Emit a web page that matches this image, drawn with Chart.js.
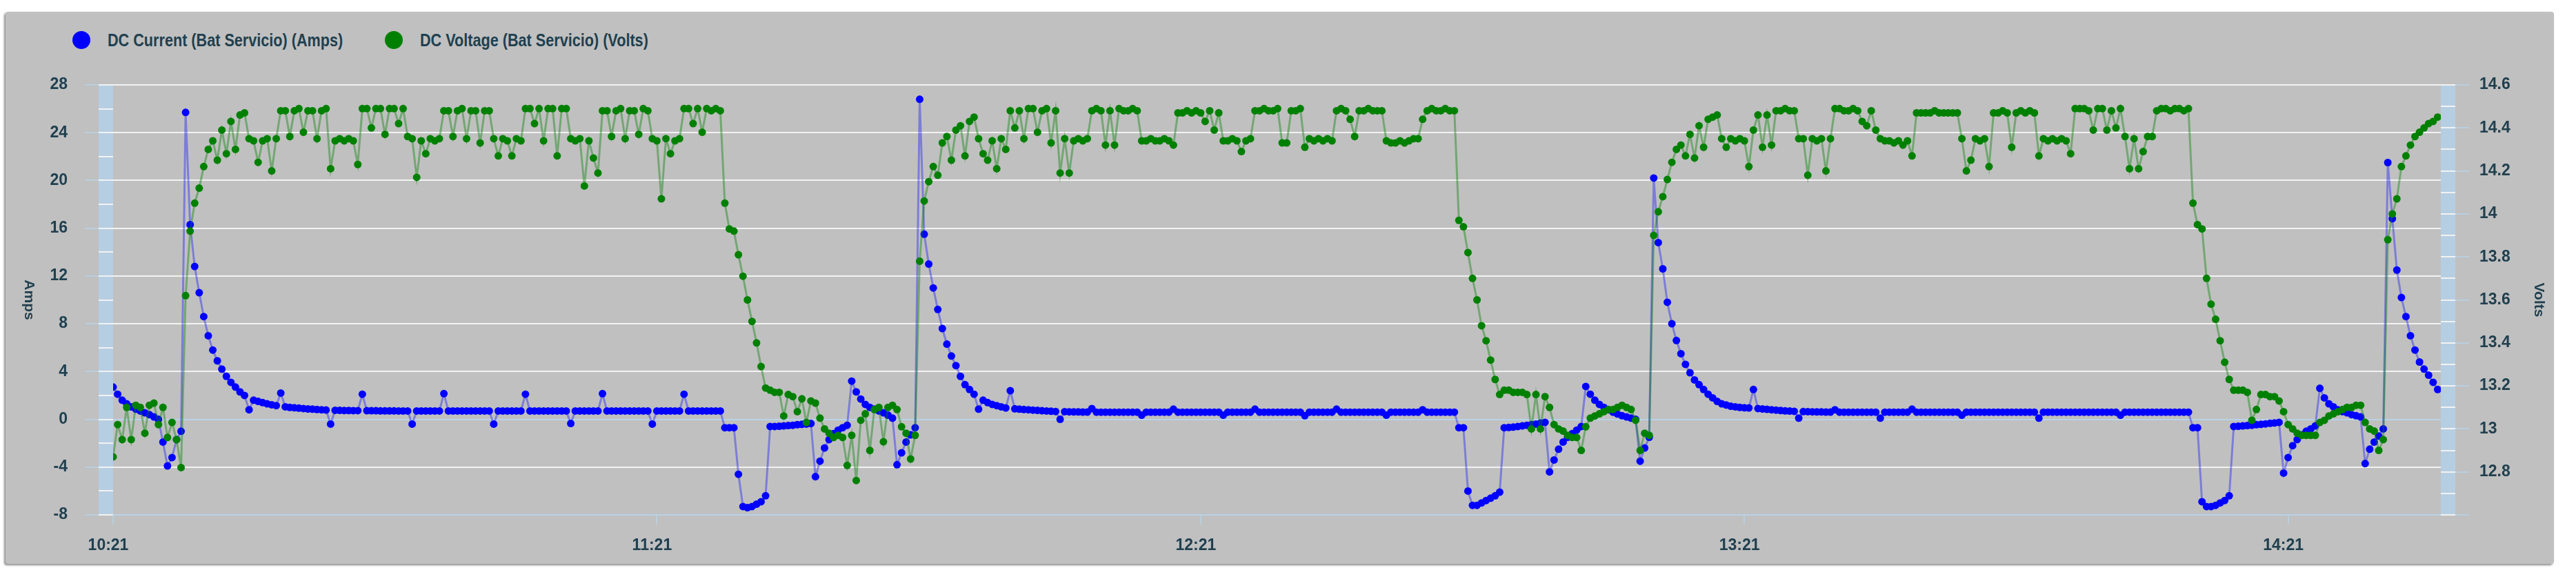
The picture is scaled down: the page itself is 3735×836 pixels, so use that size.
<!DOCTYPE html>
<html>
<head>
<meta charset="utf-8">
<script src="https://cdn.jsdelivr.net/npm/chart.js@4.4.1/dist/chart.umd.min.js"></script>
<style>
html, body { margin: 0; padding: 0; background: #fff; }
body { width: 3735px; height: 836px; position: relative; overflow: hidden; }
#panel { position: absolute; left: 8px; top: 17px; width: 3695px; height: 800px; background: #c0c0c0; border-radius: 4px; box-shadow: -2px 2px 3px rgba(0,0,0,0.45); }
#chart { position: absolute; left: 0; top: 0; }
.legend-dot { position: absolute; top: 45px; width: 26px; height: 26px; border-radius: 50%; }
.legend-text { position: absolute; top: 44px; font: bold 25px "Liberation Sans", Arial, sans-serif; line-height: 28px; color: #21404f; white-space: nowrap; transform: scaleX(0.865); transform-origin: left center; }
</style>
</head>
<body>
<div id="panel"></div>
<div class="legend-dot" style="left:105px;background:#0000ff"></div>
<div class="legend-text" style="left:156px">DC Current (Bat Servicio) (Amps)</div>
<div class="legend-dot" style="left:558px;background:#008000"></div>
<div class="legend-text" style="left:609px">DC Voltage (Bat Servicio) (Volts)</div>
<canvas id="chart" width="3735" height="836"></canvas>
<script>
// one sample every half minute, starting at 10:21
const sampleMinutes = 0.5;
const plotEndMinutes = 256.85;
const hourLabels = ['10:21', '11:21', '12:21', '13:21', '14:21'];

const ampsLabel = 'DC Current (Bat Servicio) (Amps)';
const voltsLabel = 'DC Voltage (Bat Servicio) (Volts)';

// DC current, amps (10 samples per line)
const amps = [
  2.7, 2.1, 1.6, 1.3, 1.05, 0.85, 0.7, 0.55, 0.4, 0.2,
  0.0, -1.9, -3.9, -3.2, -1.7, -1.0, 25.7, 16.3, 12.8, 10.6,
  8.6, 7.0, 5.8, 4.9, 4.2, 3.6, 3.1, 2.7, 2.3, 2.0,
  0.8, 1.6, 1.5, 1.4, 1.3, 1.22, 1.15, 2.2, 1.05, 1.0,
  0.97, 0.94, 0.9, 0.87, 0.85, 0.82, 0.8, 0.78, -0.4, 0.76,
  0.75, 0.74, 0.74, 0.73, 0.73, 2.1, 0.72, 0.72, 0.72, 0.71,
  0.71, 0.71, 0.71, 0.7, 0.7, 0.7, -0.4, 0.7, 0.7, 0.7,
  0.7, 0.7, 0.7, 2.15, 0.7, 0.7, 0.7, 0.7, 0.7, 0.7,
  0.7, 0.7, 0.7, 0.7, -0.4, 0.7, 0.7, 0.7, 0.7, 0.7,
  0.7, 2.1, 0.7, 0.7, 0.7, 0.7, 0.7, 0.7, 0.7, 0.7,
  0.7, -0.35, 0.7, 0.7, 0.7, 0.7, 0.7, 0.7, 2.15, 0.7,
  0.7, 0.7, 0.7, 0.7, 0.7, 0.7, 0.7, 0.7, 0.7, -0.4,
  0.7, 0.7, 0.7, 0.7, 0.7, 0.7, 2.1, 0.7, 0.7, 0.7,
  0.7, 0.7, 0.7, 0.7, 0.7, -0.7, -0.7, -0.7, -4.6, -7.3,
  -7.4, -7.3, -7.1, -6.9, -6.4, -0.6, -0.6, -0.58, -0.55, -0.52,
  -0.5, -0.45, -0.42, -0.4, -0.35, -4.8, -3.5, -2.4, -1.7, -1.2,
  -0.9, -0.7, -0.5, 3.2, 2.3, 1.7, 1.25, 1.0, 0.85, 0.7,
  0.55, 0.35, 0.1, -3.8, -2.8, -1.9, -1.3, -0.7, 26.8, 15.5,
  13.0, 11.0, 9.2, 7.6, 6.3, 5.3, 4.5, 3.6, 2.9, 2.5,
  2.1, 0.85, 1.6, 1.4, 1.25, 1.15, 1.05, 0.95, 2.4, 0.88,
  0.85, 0.82, 0.8, 0.77, 0.75, 0.72, 0.7, 0.68, 0.66, 0.0,
  0.64, 0.63, 0.62, 0.62, 0.61, 0.61, 0.9, 0.6, 0.6, 0.6,
  0.6, 0.6, 0.6, 0.6, 0.6, 0.6, 0.6, 0.35, 0.6, 0.6,
  0.6, 0.6, 0.6, 0.6, 0.85, 0.6, 0.6, 0.6, 0.6, 0.6,
  0.6, 0.6, 0.6, 0.6, 0.6, 0.35, 0.6, 0.6, 0.6, 0.6,
  0.6, 0.6, 0.85, 0.6, 0.6, 0.6, 0.6, 0.6, 0.6, 0.6,
  0.6, 0.6, 0.6, 0.3, 0.6, 0.6, 0.6, 0.6, 0.6, 0.6,
  0.85, 0.6, 0.6, 0.6, 0.6, 0.6, 0.6, 0.6, 0.6, 0.6,
  0.6, 0.35, 0.6, 0.6, 0.6, 0.6, 0.6, 0.6, 0.6, 0.8,
  0.6, 0.6, 0.6, 0.6, 0.6, 0.6, 0.6, -0.7, -0.7, -6.0,
  -7.2, -7.2, -7.0, -6.8, -6.6, -6.4, -6.1, -0.7, -0.68, -0.65,
  -0.6, -0.55, -0.5, -0.45, -0.4, -0.32, -0.25, -4.4, -3.4, -2.5,
  -1.9, -1.5, -1.2, -0.9, -0.6, 2.75, 2.1, 1.6, 1.25, 1.0,
  0.8, 0.6, 0.45, 0.3, 0.2, 0.1, 0.0, -3.5, -2.4, -1.5,
  20.2, 14.8, 12.6, 9.8, 8.0, 6.6, 5.5, 4.6, 3.9, 3.3,
  2.9, 2.5, 2.1, 1.8, 1.5, 1.3, 1.2, 1.1, 1.05, 1.0,
  0.97, 0.95, 2.5, 0.9, 0.87, 0.84, 0.8, 0.77, 0.74, 0.71,
  0.69, 0.67, 0.1, 0.65, 0.64, 0.63, 0.62, 0.62, 0.61, 0.61,
  0.8, 0.6, 0.6, 0.6, 0.6, 0.6, 0.6, 0.6, 0.6, 0.6,
  0.1, 0.6, 0.6, 0.6, 0.6, 0.6, 0.6, 0.85, 0.6, 0.6,
  0.6, 0.6, 0.6, 0.6, 0.6, 0.6, 0.6, 0.6, 0.35, 0.6,
  0.6, 0.6, 0.6, 0.6, 0.6, 0.6, 0.6, 0.6, 0.6, 0.6,
  0.6, 0.6, 0.6, 0.6, 0.6, 0.1, 0.6, 0.6, 0.6, 0.6,
  0.6, 0.6, 0.6, 0.6, 0.6, 0.6, 0.6, 0.6, 0.6, 0.6,
  0.6, 0.6, 0.6, 0.35, 0.6, 0.6, 0.6, 0.6, 0.6, 0.6,
  0.6, 0.6, 0.6, 0.6, 0.6, 0.6, 0.6, 0.6, 0.6, -0.7,
  -0.7, -6.9, -7.3, -7.3, -7.2, -7.0, -6.8, -6.4, -0.6, -0.58,
  -0.55, -0.52, -0.5, -0.45, -0.42, -0.38, -0.33, -0.3, -0.25, -4.5,
  -3.2, -2.2, -1.7, -1.3, -1.0, -0.8, -0.55, 2.6, 1.8, 1.3,
  1.05, 0.8, 0.65, 0.55, 0.4, 0.3, 0.2, -3.7, -2.5, -1.9,
  -1.4, -0.8, 21.5, 16.8, 12.5, 10.2, 8.6, 7.0, 5.8, 4.8,
  4.2, 3.7, 3.1, 2.5
];

// DC voltage, volts (10 samples per line)
const volts = [
  12.87, 13.02, 12.95, 13.1, 12.95, 13.11, 13.1, 12.98, 13.11, 13.12,
  13.02, 13.1, 12.96, 13.03, 12.95, 12.82, 13.62, 13.92, 14.05, 14.12,
  14.22, 14.3, 14.34, 14.25, 14.39, 14.28, 14.43, 14.3, 14.46, 14.47,
  14.35, 14.34, 14.24, 14.34, 14.35, 14.2, 14.35, 14.48, 14.48, 14.36,
  14.48, 14.49, 14.38, 14.48, 14.48, 14.35, 14.48, 14.49, 14.21, 14.34,
  14.35, 14.34, 14.35, 14.34, 14.23, 14.49, 14.49, 14.4, 14.49, 14.49,
  14.37, 14.49, 14.49, 14.42, 14.49, 14.36, 14.35, 14.17, 14.34, 14.28,
  14.35, 14.34, 14.35, 14.48, 14.48, 14.36, 14.48, 14.49, 14.35, 14.48,
  14.48, 14.33, 14.48, 14.48, 14.35, 14.27, 14.35, 14.34, 14.27, 14.35,
  14.34, 14.49, 14.49, 14.42, 14.49, 14.34, 14.49, 14.49, 14.27, 14.49,
  14.49, 14.35, 14.34, 14.35, 14.13, 14.34, 14.26, 14.19, 14.48, 14.48,
  14.36, 14.48, 14.49, 14.35, 14.48, 14.48, 14.37, 14.49, 14.48, 14.35,
  14.34, 14.07, 14.35, 14.28, 14.34, 14.35, 14.49, 14.49, 14.42, 14.49,
  14.38, 14.49, 14.48, 14.49, 14.48, 14.05, 13.93, 13.92, 13.81, 13.71,
  13.6, 13.5, 13.4, 13.29, 13.19, 13.18, 13.17, 13.17, 13.06, 13.16,
  13.15, 13.08, 13.14, 13.03, 13.13, 13.12, 13.05, 13.0, 12.98, 12.96,
  12.97, 12.96, 12.83, 12.97, 12.76, 13.04, 13.07, 12.9, 13.09, 13.1,
  12.94, 13.1, 13.11, 13.09, 13.01, 12.98, 12.86, 12.97, 13.78, 14.06,
  14.15, 14.22, 14.18, 14.33, 14.36, 14.25, 14.39, 14.41, 14.27, 14.43,
  14.45, 14.35, 14.28, 14.25, 14.34, 14.21, 14.35, 14.3, 14.48, 14.4,
  14.48, 14.35, 14.49, 14.49, 14.38, 14.48, 14.49, 14.33, 14.48, 14.19,
  14.35, 14.19, 14.34, 14.35, 14.34, 14.35, 14.48, 14.49, 14.48, 14.32,
  14.48, 14.32, 14.49, 14.48, 14.48, 14.49, 14.48, 14.34, 14.34, 14.35,
  14.34, 14.34, 14.35, 14.34, 14.32, 14.47, 14.47, 14.48, 14.47, 14.48,
  14.47, 14.43, 14.48, 14.39, 14.47, 14.34, 14.34, 14.35, 14.34, 14.29,
  14.34, 14.35, 14.48, 14.48, 14.49, 14.48, 14.48, 14.49, 14.33, 14.33,
  14.48, 14.48, 14.49, 14.31, 14.35, 14.34, 14.35, 14.34, 14.35, 14.34,
  14.48, 14.49, 14.48, 14.44, 14.36, 14.48, 14.48, 14.49, 14.48, 14.48,
  14.48, 14.34, 14.33, 14.33, 14.34, 14.33, 14.34, 14.35, 14.35, 14.44,
  14.48, 14.49, 14.48, 14.48, 14.49, 14.48, 14.48, 13.97, 13.94, 13.82,
  13.7, 13.6, 13.48, 13.41, 13.32, 13.23, 13.16, 13.18, 13.18, 13.17,
  13.17, 13.17, 13.16, 13.0, 13.16, 13.0, 13.15, 13.1, 13.02, 13.0,
  12.99, 12.97, 12.96, 12.96, 12.9, 13.01, 13.05, 13.06, 13.07, 13.08,
  13.09, 13.09, 13.1, 13.11, 13.1, 13.09, 13.04, 12.9, 12.98, 12.97,
  13.9, 14.01, 14.08, 14.16, 14.24, 14.3, 14.32, 14.27, 14.37, 14.26,
  14.41, 14.31, 14.44, 14.45, 14.46, 14.35, 14.31, 14.35, 14.34, 14.35,
  14.34, 14.22, 14.39, 14.46, 14.31, 14.46, 14.32, 14.48, 14.48, 14.49,
  14.48, 14.48, 14.35, 14.35, 14.18, 14.35, 14.34, 14.35, 14.2, 14.35,
  14.49, 14.49, 14.48, 14.48, 14.49, 14.48, 14.43, 14.41, 14.48, 14.39,
  14.35, 14.34, 14.34, 14.33, 14.34, 14.32, 14.34, 14.27, 14.47, 14.47,
  14.47, 14.47, 14.48, 14.47, 14.47, 14.47, 14.47, 14.47, 14.35, 14.2,
  14.25, 14.35, 14.34, 14.35, 14.22, 14.47, 14.47, 14.48, 14.47, 14.31,
  14.47, 14.48, 14.47, 14.48, 14.47, 14.27, 14.35, 14.34, 14.35, 14.34,
  14.35, 14.34, 14.28, 14.49, 14.49, 14.49, 14.48, 14.39, 14.49, 14.49,
  14.39, 14.48, 14.4, 14.49, 14.36, 14.21, 14.35, 14.21, 14.29, 14.36,
  14.36, 14.48, 14.49, 14.49, 14.48, 14.49, 14.49, 14.48, 14.49, 14.05,
  13.95, 13.93, 13.7, 13.58, 13.51, 13.41, 13.31, 13.23, 13.18, 13.18,
  13.18, 13.17, 13.04, 13.09, 13.16, 13.16, 13.15, 13.15, 13.13, 13.08,
  13.02, 13.0, 12.98, 12.97, 12.97, 12.97, 12.97, 13.03, 13.04, 13.06,
  13.07, 13.08, 13.09, 13.1, 13.1, 13.11, 13.11, 13.03, 13.0, 12.99,
  12.9, 12.95, 13.88, 14.0, 14.07, 14.22, 14.27, 14.32, 14.36, 14.38,
  14.4, 14.42, 14.43, 14.45
];

const textColor = '#21404f';
const gridWhite = '#f2f2f2';
const bandBlue = '#b6cee2';
const lineBlue = '#b9d3e8';
const bandWidth = 21;
const tickFont = { family: '"Liberation Sans", Arial, sans-serif', size: 23, weight: 'bold' };

// light-blue bands beside the plot, their white ticks, and the axis titles
const axisDecor = {
  id: 'axisDecor',
  afterDatasetsDraw(chart) {
    const { ctx, chartArea: area, scales } = chart;
    const yL = scales.y, yR = scales.y1, xS = scales.x;
    const seg = (x1, y1, x2, y2) => { ctx.beginPath(); ctx.moveTo(x1, y1); ctx.lineTo(x2, y2); ctx.stroke(); };
    ctx.save();
    ctx.fillStyle = bandBlue;
    ctx.fillRect(area.left - bandWidth, area.top - 1, bandWidth, area.bottom - area.top + 2);
    ctx.fillRect(area.right, area.top - 1, bandWidth, area.bottom - area.top + 2);

    ctx.strokeStyle = gridWhite;
    ctx.lineWidth = 2;
    for (let v = yL.min; v <= yL.max; v += 2) {
      const p = Math.round(yL.getPixelForValue(v));
      seg(area.left - bandWidth, p, area.left, p);
    }
    for (let k = 0; k <= 20; k++) {
      const p = Math.round(yR.getPixelForValue(yR.min + k * 0.1));
      seg(area.right, p, area.right + bandWidth, p);
    }

    ctx.strokeStyle = lineBlue;
    ctx.lineWidth = 1.5;
    yL.ticks.forEach(t => {
      const p = Math.round(yL.getPixelForValue(t.value));
      seg(area.left - bandWidth - 20, p, area.left - bandWidth, p);
    });
    yR.ticks.forEach(t => {
      const p = Math.round(yR.getPixelForValue(t.value));
      seg(area.right + bandWidth, p, area.right + bandWidth + 20, p);
    });
    xS.ticks.forEach(t => {
      const p = Math.round(xS.getPixelForValue(t.value));
      seg(p, area.bottom, p, area.bottom + 14);
    });

    ctx.fillStyle = textColor;
    ctx.font = 'bold 21px "Liberation Sans", Arial, sans-serif';
    ctx.textAlign = 'center';
    ctx.textBaseline = 'middle';
    const midY = (area.top + area.bottom) / 2;
    [['Amps', area.left - 122], ['Volts', area.right + 142]].forEach(([t, x]) => {
      ctx.save();
      ctx.translate(x, midY);
      ctx.rotate(Math.PI / 2);
      ctx.fillText(t, 0, 0);
      ctx.restore();
    });
    ctx.restore();
  }
};

new Chart(document.getElementById('chart'), {
  type: 'line',
  data: {
    datasets: [{
      label: ampsLabel,
      data: amps.map((v, i) => ({ x: i * sampleMinutes, y: v })),
      yAxisID: 'y',
      order: 1,
      borderColor: 'rgba(0, 0, 255, 0.35)',
      borderWidth: 3,
      pointRadius: 5.5,
      pointBorderWidth: 0,
      pointBackgroundColor: '#0000ff',
      tension: 0
    }, {
      label: voltsLabel,
      data: volts.map((v, i) => ({ x: i * sampleMinutes, y: v })),
      yAxisID: 'y1',
      order: 0,
      borderColor: 'rgba(0, 128, 0, 0.4)',
      borderWidth: 3,
      pointRadius: 5.5,
      pointBorderWidth: 0,
      pointBackgroundColor: '#008000',
      tension: 0
    }]
  },
  options: {
    responsive: false,
    devicePixelRatio: 1,
    animation: false,
    events: [],
    layout: { padding: { top: 123, left: 0, right: 0, bottom: 0 } },
    plugins: { legend: { display: false }, tooltip: { enabled: false } },
    scales: {
      x: {
        type: 'linear',
        min: 0,
        max: plotEndMinutes,
        afterBuildTicks: s => { s.ticks = hourLabels.map((_, k) => ({ value: k * 60 })); },
        afterFit: s => { s.height = 90; },
        grid: { display: false, drawTicks: false },
        border: { display: false },
        ticks: {
          padding: 31,
          labelOffset: -7,
          maxRotation: 0,
          autoSkip: false,
          font: tickFont,
          color: textColor,
          callback: (v, i) => hourLabels[i]
        }
      },
      y: {
        position: 'left',
        min: -8,
        max: 28,
        afterBuildTicks: s => { const t = []; for (let v = -8; v <= 28; v += 4) t.push({ value: v }); s.ticks = t; },
        afterFit: s => { s.width = 164; },
        grid: {
          color: c => (c.tick && (c.tick.value === 0 || c.tick.value === -8)) ? lineBlue : gridWhite,
          lineWidth: 2,
          drawTicks: false
        },
        border: { display: false },
        ticks: { padding: 66, font: tickFont, color: textColor, callback: v => String(v) }
      },
      y1: {
        position: 'right',
        min: 12.6,
        max: 14.6,
        afterBuildTicks: s => { const t = []; for (let k = 0; k <= 10; k++) t.push({ value: 12.6 + k * 0.2 }); s.ticks = t; },
        afterFit: s => { s.width = 196; },
        grid: { display: false, drawTicks: false },
        border: { display: false },
        ticks: {
          padding: 56,
          font: tickFont,
          color: textColor,
          callback: v => v < 12.7 ? '' : String(Math.round(v * 10) / 10)
        }
      }
    }
  },
  plugins: [axisDecor]
});
</script>
</body>
</html>
